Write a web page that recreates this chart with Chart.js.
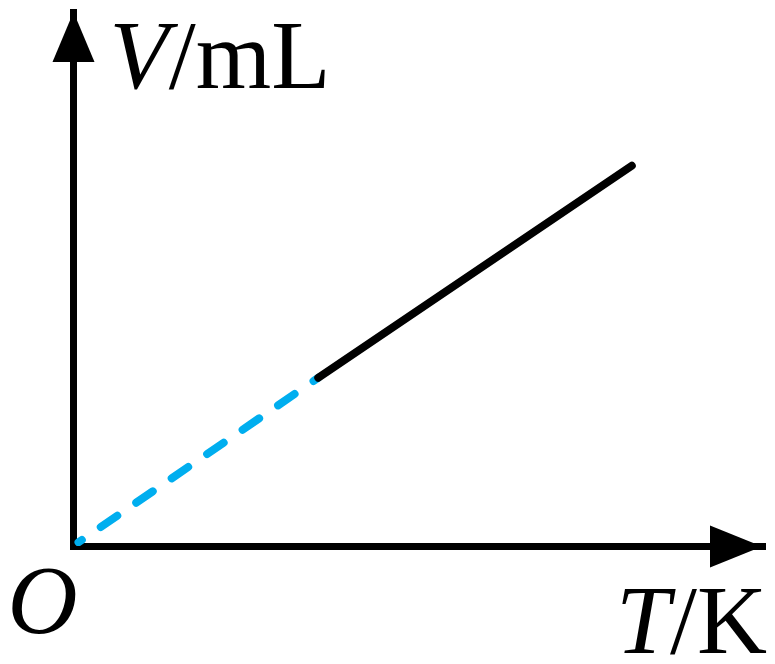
<!DOCTYPE html>
<html>
<head>
<meta charset="utf-8">
<script src="https://cdn.jsdelivr.net/npm/chart.js@4.4.1/dist/chart.umd.min.js"></script>
<style>
  html, body { margin: 0; padding: 0; background: #fff; }
  canvas { display: block; }
</style>
</head>
<body>
<canvas id="myChart" width="775" height="664"></canvas>
<script>
// Datos (unidades arbitrarias, 0-100 en cada eje)
const dashedT = [0.8, 35.6];
const dashedV = [0.7, 31.5];
const solidT = [35.6, 81.1];
const solidV = [31.5, 71.2];

const xTitle = ['T', '/K'];
const yTitle = ['V', '/mL'];
const originLabel = 'O';

const toPoints = (xs, ys) => xs.map((x, i) => ({ x: x, y: ys[i] }));

const FONT = '"Liberation Serif", "Times New Roman", serif';
const SIZE = 97;

// Dibuja texto con una parte en cursiva y otra normal
const drawMixed = (ctx, parts, x, y) => {
    ctx.font = 'italic ' + SIZE + 'px ' + FONT;
    ctx.fillText(parts[0], x, y);
    const w = ctx.measureText(parts[0]).width;
    ctx.font = SIZE + 'px ' + FONT;
    ctx.fillText(parts[1], x + w, y);
};

const axesPlugin = {
    id: 'axesArrows',
    afterDraw(chart) {
        const ctx = chart.ctx;
        const xs = chart.scales.x;
        const ys = chart.scales.y;
        const ox = xs.getPixelForValue(0) + 0.5;
        const oy = ys.getPixelForValue(0) + 0.5;
        const topY = ys.getPixelForValue(100);
        const rightX = xs.getPixelForValue(100);

        ctx.save();
        ctx.fillStyle = '#000';

        // flecha del eje V
        ctx.beginPath();
        ctx.moveTo(ox, topY);
        ctx.lineTo(ox - 21, topY + 50);
        ctx.lineTo(ox + 21, topY + 50);
        ctx.closePath();
        ctx.fill();

        // flecha del eje T
        ctx.beginPath();
        ctx.moveTo(rightX, oy);
        ctx.lineTo(rightX - 52, oy - 21);
        ctx.lineTo(rightX - 52, oy + 21);
        ctx.closePath();
        ctx.fill();

        ctx.textBaseline = 'alphabetic';
        ctx.textAlign = 'left';
        drawMixed(ctx, yTitle, ox + 36, topY + 76);
        drawMixed(ctx, xTitle, rightX - 146, oy + 106);

        ctx.font = 'italic ' + SIZE + 'px ' + FONT;
        ctx.fillText(originLabel, ox - 66, oy + 86);
        ctx.restore();
    }
};

const ctx = document.getElementById('myChart').getContext('2d');
const myChart = new Chart(ctx, {
    type: 'line',
    data: {
        datasets: [
            {
                label: 'V-T',
                data: toPoints(solidT, solidV),
                borderColor: '#000000',
                borderWidth: 8,
                borderCapStyle: 'round',
                pointRadius: 0,
                tension: 0
            },
            {
                label: 'extrapolación',
                data: toPoints(dashedT, dashedV),
                borderColor: '#00aeef',
                borderWidth: 8,
                borderCapStyle: 'round',
                borderDash: [20, 23],
                borderDashOffset: 16,
                pointRadius: 0,
                tension: 0
            }
        ]
    },
    options: {
        responsive: false,
        animation: false,
        layout: {
            padding: { left: 73, top: 12, right: 13, bottom: 118 }
        },
        plugins: {
            legend: { display: false },
            tooltip: { enabled: false },
            title: { display: false }
        },
        scales: {
            x: {
                type: 'linear',
                min: 0,
                max: 100,
                ticks: { display: false },
                grid: { display: false, drawTicks: false, tickLength: 0, lineWidth: 7 },
                border: { display: true, color: '#000', width: 7 }
            },
            y: {
                type: 'linear',
                min: 0,
                max: 100,
                ticks: { display: false },
                grid: { display: false, drawTicks: false, tickLength: 0, lineWidth: 7 },
                border: { display: true, color: '#000', width: 7 }
            }
        }
    },
    plugins: [axesPlugin]
});
</script>
</body>
</html>
